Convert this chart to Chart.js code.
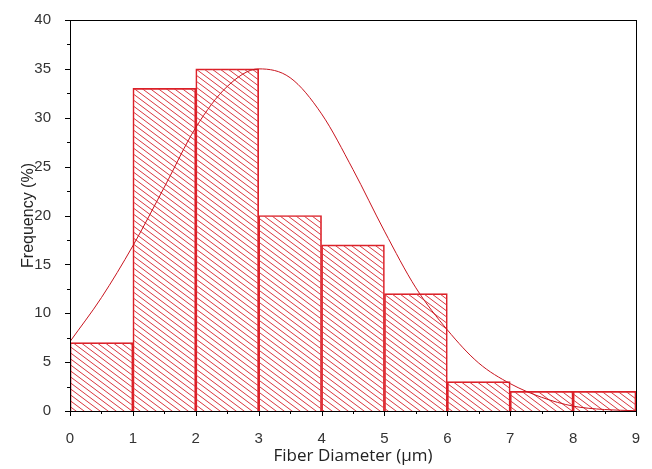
<!DOCTYPE html>
<html lang="en">
<head>
  <meta charset="UTF-8">
  <title>Fiber Diameter</title>
  <script src="https://cdn.jsdelivr.net/npm/chart.js"></script>
  <style>
    html, body { margin: 0; padding: 0; background: #fff; }
    #wrap { width: 652px; height: 469px; }
  </style>
</head>
<body>
  <div id="wrap"><canvas id="fiberChart" width="652" height="469"></canvas></div>

  <script>
    // histogram bins (µm) and frequencies (%)
    const binStarts = [0, 1, 2, 3, 4, 5, 6, 7, 8];
    const binWidth = 1;
    const freq = [7, 33, 35, 20, 17, 12, 3, 2, 2];

    // fitted curve
    const curveX = [0, 0.5, 1, 1.5, 2, 2.5, 3, 3.5, 4, 4.5, 5, 5.5, 6, 6.5, 7, 7.5, 8, 8.5, 9];
    const curveY = [7.1, 11.6, 16.9, 22.9, 29.0, 33.2, 35.0, 34.1, 30.4, 24.7, 18.4, 12.6, 8.3, 4.9, 2.8, 1.4, 0.5, 0.15, 0.03];

    const xTicks = [0, 1, 2, 3, 4, 5, 6, 7, 8, 9];
    const yTicks = [0, 5, 10, 15, 20, 25, 30, 35, 40];

    const red = '#dc2028';

    function hatch() {
      const w = 8, h = 6;
      const c = document.createElement('canvas');
      c.width = w; c.height = h;
      const g = c.getContext('2d');
      g.strokeStyle = '#d9363e';
      g.lineWidth = 1;
      for (let n = -1; n <= 1; n++) {
        g.beginPath();
        g.moveTo(-1, -h / w + n * h);
        g.lineTo(w + 1, h + h / w + n * h);
        g.stroke();
      }
      return g.createPattern(c, 'repeat');
    }

    // frame + minor ticks
    const frame = {
      id: 'frame',
      afterDraw(chart) {
        const ctx = chart.ctx, a = chart.chartArea;
        const sx = chart.scales.x, sy = chart.scales.y;
        ctx.save();
        ctx.strokeStyle = '#000';
        ctx.lineWidth = 1;
        ctx.strokeRect(Math.round(a.left) + 0.5, Math.round(a.top) + 0.5,
          Math.round(a.right - a.left), Math.round(a.bottom - a.top));
        ctx.beginPath();
        for (let v = 0; v <= 9; v += 0.5) {
          const px = Math.round(sx.getPixelForValue(v)) + 0.5;
          const len = v % 1 === 0 ? 5 : 3;
          ctx.moveTo(px, a.bottom);
          ctx.lineTo(px, a.bottom + len);
        }
        for (let v = 0; v <= 40; v += 2.5) {
          const py = Math.round(sy.getPixelForValue(v)) + 0.5;
          const len = v % 5 === 0 ? 5 : 3;
          ctx.moveTo(a.left, py);
          ctx.lineTo(a.left - len, py);
        }
        ctx.stroke();
        ctx.restore();
      }
    };

    new Chart(document.getElementById('fiberChart'), {
      type: 'bar',
      data: {
        datasets: [{
          type: 'line',
          data: curveX.map((x, i) => ({ x: x, y: curveY[i] })),
          borderColor: '#c8141e',
          borderWidth: 1,
          pointRadius: 0,
          cubicInterpolationMode: 'monotone',
          fill: false,
          order: 0
        }, {
          type: 'bar',
          data: binStarts.map((s, i) => ({ x: s + binWidth / 2, y: freq[i] })),
          backgroundColor: hatch(),
          borderColor: red,
          borderWidth: 1,
          barPercentage: 1,
          categoryPercentage: 1,
          order: 1
        }]
      },
      options: {
        responsive: false,
        animation: false,
        layout: { padding: { left: 0, right: 16, top: 19, bottom: 0 } },
        plugins: { legend: { display: false }, tooltip: { enabled: false } },
        scales: {
          x: {
            type: 'linear',
            offset: false,
            min: 0, max: 9,
            afterBuildTicks: s => { s.ticks = xTicks.map(v => ({ value: v })); },
            afterFit: s => { s.height = 58; },
            grid: { display: false, offset: false },
            border: { display: false },
            ticks: { color: '#333', padding: 11, maxRotation: 0, font: { family: 'Liberation Sans', size: 15 } },
            title: {
              display: true,
              text: 'Fiber Diameter (µm)',
              color: '#222',
              padding: { top: 0, bottom: 3 },
              font: { family: 'Open Sans', size: 17 }
            }
          },
          y: {
            min: 0, max: 40,
            afterBuildTicks: s => { s.ticks = yTicks.map(v => ({ value: v })); },
            afterFit: s => { s.width = 70; },
            grid: { display: false },
            border: { display: false },
            ticks: { color: '#333', padding: 11, font: { family: 'Liberation Sans', size: 15 } },
            title: {
              display: true,
              text: 'Frequency (%)',
              color: '#222',
              padding: { top: 19, bottom: 0 },
              font: { family: 'Liberation Sans', size: 16 }
            }
          }
        }
      },
      plugins: [frame]
    });
  </script>
</body>
</html>
